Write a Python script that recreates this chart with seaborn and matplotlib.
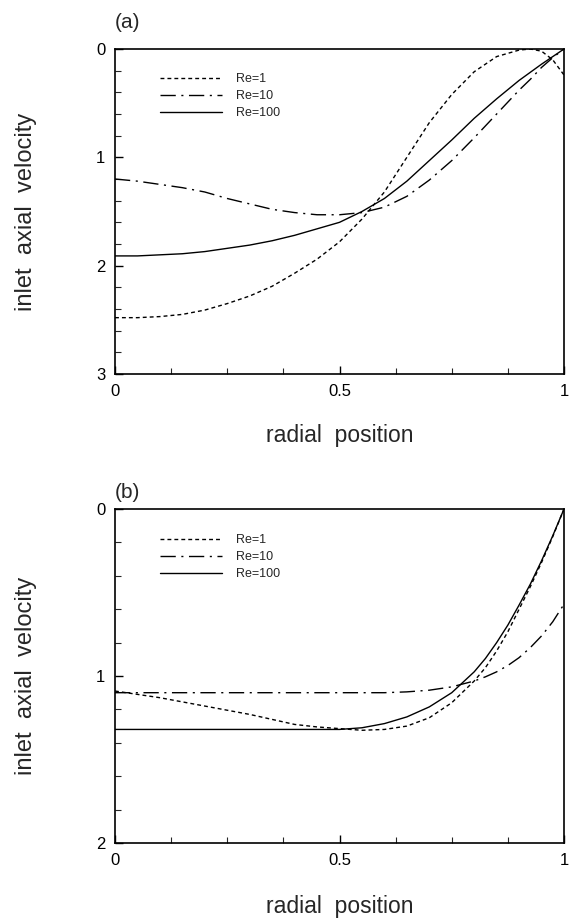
import numpy as np
import pandas as pd
import matplotlib
matplotlib.use("Agg")
import matplotlib.pyplot as plt
from matplotlib.ticker import MultipleLocator
import seaborn as sns

# ---------------- data ----------------
x_a = [0.0, 0.05, 0.1, 0.15, 0.2, 0.25, 0.3, 0.35, 0.4, 0.45, 0.5, 0.55, 0.6, 0.65,
       0.7, 0.75, 0.8, 0.85, 0.9, 0.925, 0.95, 0.975, 1.0]
a_re1 = [2.48, 2.48, 2.47, 2.45, 2.41, 2.35, 2.28, 2.19, 2.07, 1.94, 1.78, 1.57, 1.32, 1.0,
         0.68, 0.42, 0.21, 0.07, 0.01, 0.0, 0.02, 0.10, 0.24]
a_re10 = [1.2, 1.22, 1.25, 1.28, 1.32, 1.38, 1.43, 1.48, 1.51, 1.53, 1.53, 1.51, 1.46, 1.36,
          1.21, 1.03, 0.82, 0.6, 0.38, 0.28, 0.17, 0.08, 0.0]
a_re100 = [1.91, 1.91, 1.9, 1.89, 1.87, 1.84, 1.81, 1.77, 1.72, 1.66, 1.6, 1.5, 1.38, 1.22,
           1.03, 0.84, 0.64, 0.46, 0.29, 0.215, 0.14, 0.07, 0.0]

x_b = [0.0, 0.05, 0.1, 0.15, 0.2, 0.25, 0.3, 0.35, 0.4, 0.45, 0.5, 0.55, 0.6, 0.65,
       0.7, 0.75, 0.8, 0.825, 0.85, 0.875, 0.9, 0.925, 0.95, 0.975, 1.0]
b_re1 = [1.09, 1.11, 1.13, 1.155, 1.18, 1.205, 1.23, 1.26, 1.29, 1.305, 1.315, 1.325, 1.32,
         1.3, 1.25, 1.16, 1.03, 0.95, 0.85, 0.735, 0.6, 0.465, 0.32, 0.165, 0.0]
b_re10 = [1.10, 1.10, 1.10, 1.10, 1.10, 1.10, 1.10, 1.10, 1.10, 1.10, 1.10, 1.10, 1.10,
          1.095, 1.085, 1.065, 1.03, 1.005, 0.975, 0.937, 0.89, 0.83, 0.76, 0.675, 0.57]
b_re100 = [1.32, 1.32, 1.32, 1.32, 1.32, 1.32, 1.32, 1.32, 1.32, 1.32, 1.32, 1.31, 1.285,
           1.245, 1.185, 1.1, 0.975, 0.895, 0.8, 0.695, 0.575, 0.45, 0.31, 0.16, 0.0]

series_labels = ["Re=1", "Re=10", "Re=100"]
panel_tags = ["(a)", "(b)"]
y_ticks_a = [0, 1, 2, 3]
y_ticks_b = [0, 1, 2]
x_ticks = [0, 0.5, 1]
x_ticklabels = ["0", "0.5", "1"]
xlabel = "radial  position"
ylabel = "inlet  axial  velocity"

# ---------------- style ----------------
sns.set_style("ticks")
plt.rcParams["font.family"] = ["Liberation Sans", "DejaVu Sans"]

fig = plt.figure(figsize=(5.73, 9.22), dpi=100)
ax_a = fig.add_axes([115 / 573, 1 - 374 / 922, 449 / 573, 325 / 922])
ax_b = fig.add_axes([115 / 573, 1 - 843 / 922, 449 / 573, 334 / 922])

styles = [(0, (2.8, 2.2)), (0, (11, 4, 1.5, 4)), "-"]


def draw(ax, xs, ys_list, yticks, tag, tag_y):
    for ys, lab, ls in zip(ys_list, series_labels, styles):
        df = pd.DataFrame({"x": xs, "y": ys})
        sns.lineplot(data=df, x="x", y="y", ax=ax, color="black", linewidth=1.0,
                     linestyle=ls, label=lab, sort=True)
    ax.set_xlim(0, 1)
    ax.set_ylim(max(yticks), 0)
    ax.set_xticks(x_ticks)
    ax.set_xticklabels(x_ticklabels)
    ax.set_yticks(yticks)
    ax.set_yticklabels([str(t) for t in yticks])
    ax.xaxis.set_minor_locator(MultipleLocator(0.125))
    ax.yaxis.set_minor_locator(MultipleLocator(0.2))
    ax.tick_params(which="major", direction="in", length=6, width=1.0, labelsize=12,
                   pad=7, colors="black")
    ax.tick_params(which="minor", direction="in", length=4, width=0.8)
    for sp in ax.spines.values():
        sp.set_visible(True)
        sp.set_linewidth(1.2)
        sp.set_color("black")
    ax.set_xlabel(xlabel, fontsize=16.5)
    ax.set_ylabel(ylabel, fontsize=17)
    ax.yaxis.set_label_coords(-0.174, 0.5)
    ax.xaxis.set_label_coords(0.5, -0.155)
    leg = ax.legend(loc="upper left", bbox_to_anchor=(0.1, 0.925), frameon=False,
                    fontsize=9, handlelength=5.0, handletextpad=1.1, labelspacing=0.4,
                    borderpad=0, borderaxespad=0)
    for line in leg.get_lines():
        line.set_linewidth(1.0)
    fig.text(127 / 573, 1 - tag_y / 922, tag, fontsize=15, ha="center", va="center")


draw(ax_a, x_a, [a_re1, a_re10, a_re100], y_ticks_a, panel_tags[0], 23)
draw(ax_b, x_b, [b_re1, b_re10, b_re100], y_ticks_b, panel_tags[1], 492)

fig.savefig("out.png", dpi=100)
